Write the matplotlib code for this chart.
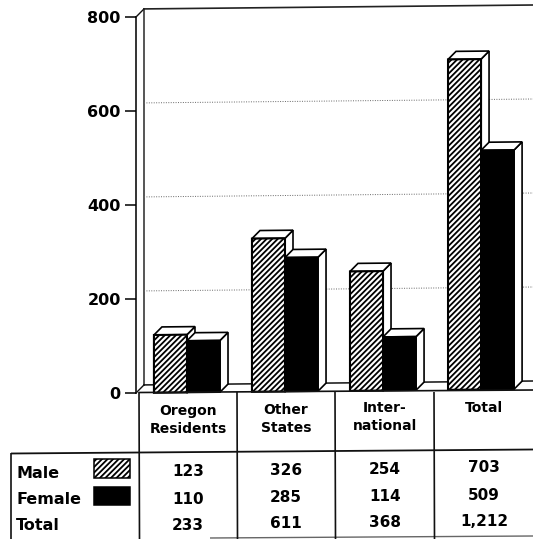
import matplotlib
matplotlib.use("Agg")
import matplotlib.pyplot as plt
from matplotlib.patches import Polygon, Rectangle
from matplotlib.transforms import Affine2D

categories = [["Oregon", "Residents"], ["Other", "States"], ["Inter-", "national"], ["Total"]]
male = [123, 326, 254, 703]
female = [110, 285, 114, 509]
total_labels = ["233", "611", "368", "1,212"]
y_ticks = [0, 200, 400, 600, 800]
row_labels = ["Male", "Female", "Total"]

W, H = 533, 539
plt.rcParams["font.family"] = ["DejaVu Sans"]
plt.rcParams["hatch.linewidth"] = 1.3
fig = plt.figure(figsize=(W / 100, H / 100), dpi=100, facecolor="white")

# main chart axes: pixel box x 136..533, y 17..393
ax = fig.add_axes([136 / W, 1 - 393 / H, (533 - 136) / W, (393 - 17) / H])
ax.set_xlim(-0.52, 3.53)
ax.set_ylim(0, 800)
ax.patch.set_visible(False)
for s in ax.spines.values():
    s.set_visible(False)
ax.set_xticks([])
ax.set_yticks(y_ticks)
ax.set_yticklabels([str(v) for v in y_ticks], fontsize=11.5, fontweight="bold")
ax.tick_params(axis="y", length=8, width=1.1, pad=3)

bw = 0.337
dx, dy = 8 / 98, 8 / 0.47
x0, x1 = -0.52, 3.53

# back wall, floor and gridlines
ax.plot([x0, x0], [0, 800], color="#111", lw=1.2, clip_on=False, zorder=1)
ax.plot([x0 + dx, x0 + dx], [dy, 800 + dy], color="#555", lw=1.4, clip_on=False, zorder=1)
ax.plot([x0, x0 + dx], [800, 800 + dy], color="#111", lw=1, clip_on=False, zorder=1)
ax.plot([x0, x0 + dx], [0, dy], color="#111", lw=1, clip_on=False, zorder=1)
ax.plot([x0 + dx, x1 + 0.1], [800 + dy, 800 + dy], color="#222", lw=1.2, clip_on=False, zorder=1)
ax.plot([x0 + dx, x1 + 0.1], [dy, dy], color="#111", lw=1.1, clip_on=False, zorder=1)
for v in y_ticks[1:-1]:
    ax.plot([x0 + dx, x1 + 0.1], [v + dy, v + dy], color="#666", lw=0.7, ls=(0, (1, 1.5)),
            clip_on=False, zorder=1)


def bar3d(x, v, z, **kw):
    l, r = x - bw, x
    side = Polygon([(r, 0), (r + dx, dy), (r + dx, v + dy), (r, v)], closed=True,
                   fc="white", ec="black", lw=1.2, clip_on=False, zorder=z)
    top = Polygon([(l, v), (l + dx, v + dy), (r + dx, v + dy), (r, v)], closed=True,
                  fc="white", ec="black", lw=1.2, clip_on=False, zorder=z)
    ax.add_patch(side)
    ax.add_patch(top)
    ax.bar(l, v, width=bw, align="edge", zorder=z + 0.5, clip_on=False, **kw)


for i, (m, f) in enumerate(zip(male, female)):
    bar3d(i, m, 2 + i * 2, fc="white", ec="black", hatch="//////", lw=1.5)
    bar3d(i + bw, f, 3 + i * 2, fc="black", ec="black", lw=1.2)

# the scanned page runs slightly uphill: about 4 px rise across the plot width
tilt_tf = (Affine2D().translate(-136, -(H - 393)).skew(0, 4 / 397)
           .translate(136, H - 393))
for art in ax.lines:
    art.set_transform(art.get_transform() + tilt_tf)
for art in ax.patches:
    art.set_transform(art.get_data_transform() + tilt_tf)

# table overlay in pixel units
tb = fig.add_axes([0, 0, 1, 1])
tb.set_xlim(0, W)
tb.set_ylim(H, 0)
tb.axis("off")
tb.patch.set_visible(False)


def line(xs, ys, lw=1.2, c="#111"):
    tb.plot(xs, ys, color=c, lw=lw, solid_capstyle="butt")


line([139, 533], [392.5, 390])
line([11, 139, 533], [453.5, 452.5, 449.5], lw=1.3)
line([11, 11], [453, 539])
line([210, 533], [538, 536], lw=1, c="#666")
for x in [139, 237, 335, 434]:
    line([x, x + 0.5], [392, 539])

centers = [188, 286, 385, 484]
tilt = [0, 1.3, 2.6, 4]
fs = 10
for cx, t, lab in zip(centers, tilt, categories):
    ys = [411 - t, 429 - t] if len(lab) == 2 else [408]
    for y, s in zip(ys, lab):
        tb.text(cx, y, s, ha="center", va="center", fontsize=fs, fontweight="bold")
ry = [472, 499, 525]
for j, cx in enumerate(centers):
    vals = [str(male[j]), str(female[j]), total_labels[j]]
    for y, s in zip(ry, vals):
        tb.text(cx, y - tilt[j], s, ha="center", va="center", fontsize=11, fontweight="bold")
for y, s in zip([474, 500, 526], row_labels):
    tb.text(16, y, s, ha="left", va="center", fontsize=11.5, fontweight="bold")

tb.add_patch(Rectangle((94, 459), 36, 19, fc="white", ec="black", hatch="//////", lw=1.1))
tb.add_patch(Rectangle((94, 487), 36, 18, fc="black", ec="black", lw=1.1))

fig.savefig("out.png", dpi=100, facecolor="white")
